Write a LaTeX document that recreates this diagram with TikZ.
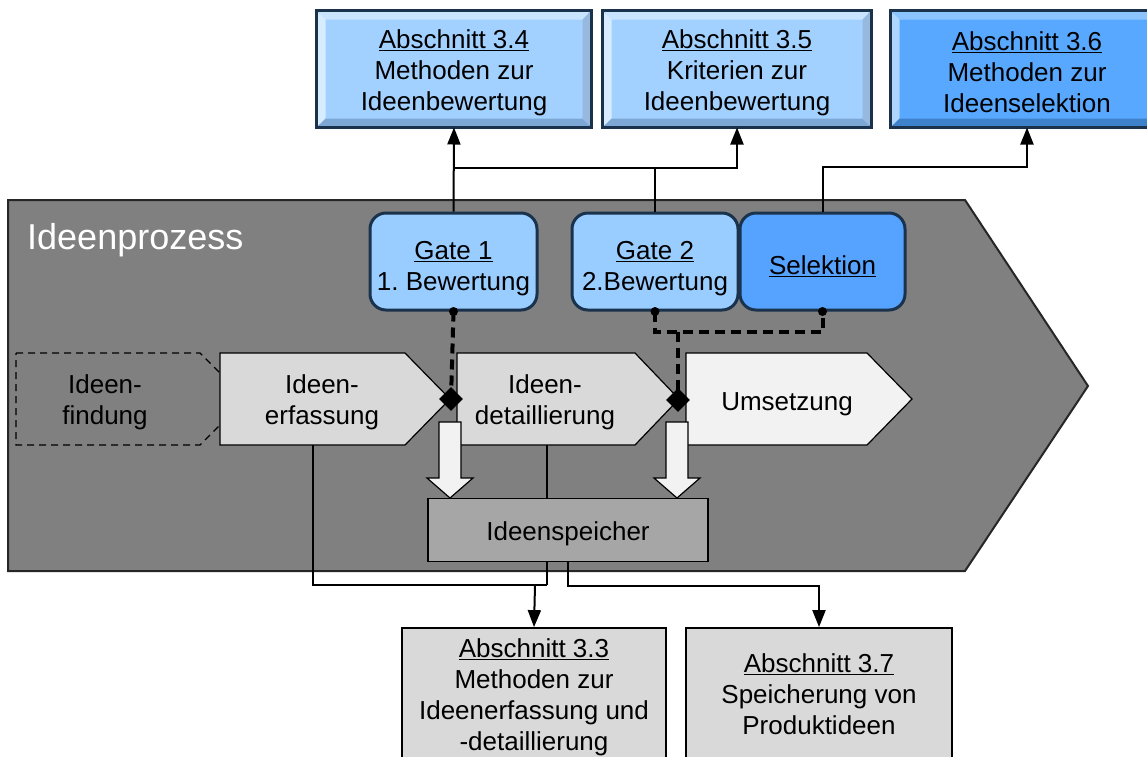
\documentclass[tikz,border=0pt]{standalone}
\usepackage{fontspec}
\setmainfont{Liberation Sans}
\frenchspacing
\usetikzlibrary{arrows.meta,shapes.geometric,calc}
\definecolor{navy}{HTML}{1A324C}
\definecolor{bigfill}{HTML}{808080}
\definecolor{lblue}{HTML}{A3D1FF}
\definecolor{lbluehi}{HTML}{C8E4FF}
\definecolor{lbluelo}{HTML}{7DA8D6}
\definecolor{mblue}{HTML}{58A8FF}
\definecolor{mbluehi}{HTML}{8CC4FF}
\definecolor{mbluelo}{HTML}{3F82CC}
\definecolor{gatefill}{HTML}{99CCFF}
\definecolor{selfill}{HTML}{55A3FF}
\definecolor{chevfill}{HTML}{D9D9D9}
\definecolor{umsfill}{HTML}{F2F2F2}
\definecolor{spfill}{HTML}{A6A6A6}
\newcommand{\bevelbox}[3]{%
  \fill[#2] ($(#1.north west)+(1.5,1.5)$) -- ($(#1.north east)+(-1.5,1.5)$) -- ($(#1.north east)+(-9,9)$) -- ($(#1.north west)+(9,9)$) -- cycle;
  \fill[#2!70!white] ($(#1.north west)+(1.5,1.5)$) -- ($(#1.north west)+(9,9)$) -- ($(#1.south west)+(9,-9)$) -- ($(#1.south west)+(1.5,-1.5)$) -- cycle;
  \fill[#3] ($(#1.south west)+(1.5,-1.5)$) -- ($(#1.south west)+(9,-9)$) -- ($(#1.south east)+(-9,-9)$) -- ($(#1.south east)+(-1.5,-1.5)$) -- cycle;
  \fill[#3!80!white] ($(#1.north east)+(-1.5,1.5)$) -- ($(#1.south east)+(-1.5,-1.5)$) -- ($(#1.south east)+(-9,-9)$) -- ($(#1.north east)+(-9,9)$) -- cycle;
  \draw[navy, line width=3pt] (#1.north west) rectangle (#1.south east);
}
\begin{document}
\begin{tikzpicture}[x=1pt,y=-1pt,
  txt/.style={font=\fontsize{26}{31}\selectfont, align=center, text=black},
  ltxt/.style={txt, yshift=-3.5pt},
  topbox/.style={draw=navy, line width=3pt, minimum height=114pt, inner sep=0pt},
  gatebox/.style={draw=navy, line width=3pt, rounded corners=16pt, minimum height=97pt, inner sep=0pt},
  chev/.style={draw=black, line width=1.2pt},
  graybox/.style={draw=black, line width=1.8pt, fill=chevfill, inner sep=0pt},
  arr/.style={-{Triangle[length=17pt,width=13pt]}, line width=2pt},
  conn/.style={line width=1.6pt},
  dashconn/.style={line width=4pt, dash pattern=on 10pt off 6pt},
  dot/.style={circle, fill=black, inner sep=0pt, minimum size=9pt},
  gem/.style={diamond, fill=black, inner sep=0pt, minimum size=24pt},
  blockarrow/.style={draw=black, line width=1.2pt, fill=umsfill},
]
\useasboundingbox (0,0) rectangle (1147,756);
\clip (0,0) rectangle (1147,756);
\fill[white] (0,0) rectangle (1147,756);

% big process arrow
\draw[fill=bigfill, draw=black!85, line width=2pt] (8,200) -- (965,200) -- (1088,386) -- (965,571) -- (8,571) -- cycle;
\node[font=\fontsize{36}{40}\selectfont, text=white, anchor=west, inner sep=0pt] (title) at (27,240) {Ideenprozess};

% top boxes
\node[topbox, fill=lblue, minimum width=272pt] (b34) at (454,69) {};
\bevelbox{b34}{lbluehi}{lbluelo}
\node[ltxt] (t34) at (454,69) {\underline{Abschnitt 3.4}\\Methoden zur\\Ideenbewertung};
\node[topbox, fill=lblue, minimum width=266pt] (b35) at (737,69) {};
\bevelbox{b35}{lbluehi}{lbluelo}
\node[ltxt] (t35) at (737,69) {\underline{Abschnitt 3.5}\\Kriterien zur\\Ideenbewertung};
\node[topbox, fill=mblue, minimum width=270pt] (b36) at (1027,69) {};
\bevelbox{b36}{mbluehi}{mbluelo}
\node[ltxt] (t36) at (1027,69) {\underline{Abschnitt 3.6}\\Methoden zur\\Ideenselektion};

% gates
\node[gatebox, fill=gatefill, minimum width=167pt] (g1) at (453.5,261.5) {};
\node[ltxt] (tg1) at (453.5,265) {\underline{Gate 1}\\1. Bewertung};
\node[gatebox, fill=gatefill, minimum width=166pt] (g2) at (655,261.5) {};
\node[ltxt] (tg2) at (655,265) {\underline{Gate 2}\\2.Bewertung};
\node[gatebox, fill=selfill, minimum width=165pt] (sel) at (822.5,261.5) {};
\node[ltxt] (tsel) at (822.5,263) {\underline{Selektion}};

% connectors to top boxes
\coordinate (j1) at (453.5,168);
\draw[arr] (g1.north) -- (b34.south);
\draw[arr] (j1) -| (b35.south);
\draw[conn] (g2.north) -- (g2.north |- j1);
\draw[arr] (sel.north) -- ++(0,-45) -| (b36.south);

% chevrons
\draw[chev, dashed, dash pattern=on 7pt off 5pt] (16,353) -- (200,353) -- (246,399) -- (200,445) -- (16,445) -- cycle;
\draw[chev, fill=chevfill] (220,353) -- (405,353) -- (450,399) -- (405,445) -- (220,445) -- cycle;
\draw[chev, fill=chevfill] (457,353) -- (635,353) -- (679,399) -- (635,445) -- (457,445) -- cycle;
\draw[chev, fill=umsfill] (686,353) -- (867,353) -- (912,399) -- (867,445) -- (686,445) -- cycle;
\node[ltxt] (findung) at (105,399) {Ideen-\\findung};
\node[ltxt] (erf) at (322,399) {Ideen-\\erfassung};
\node[ltxt] (det) at (545,399) {Ideen-\\detaillierung};
\node[ltxt] (ums) at (787,401) {Umsetzung};

% lines to bottom
\coordinate (erfB) at (313,445);
\coordinate (detB) at (547,445);
\coordinate (j3) at (547,585);
\draw[conn] (erfB) |- (j3);
\draw[conn] (detB) -- (j3);

% block arrows
\draw[blockarrow] (439,422) -- (461,422) -- (461,478) -- (473,478) -- (450,498) -- (427,478) -- (439,478) -- cycle;
\draw[blockarrow] (666,422) -- (688,422) -- (688,478) -- (700,478) -- (677,498) -- (654,478) -- (666,478) -- cycle;

% Ideenspeicher
\node[draw=black, line width=1.5pt, fill=spfill, minimum width=280pt, minimum height=63pt, inner sep=0pt] (sp) at (568,530) {};
\node[ltxt] (tsp) at (568,530) {Ideenspeicher};

% bottom boxes
\node[graybox, minimum width=264pt, minimum height=138pt] (b33) at (534,697) {};
\node[ltxt] (t33) at (534,693.5) {\underline{Abschnitt 3.3}\\Methoden zur\\Ideenerfassung und\\-detaillierung};
\node[graybox, minimum width=266pt, minimum height=138pt] (b37) at (819,697) {};
\node[ltxt] (t37) at (819,691) {\underline{Abschnitt 3.7}\\Speicherung von\\Produktideen};
\coordinate (j4) at (535,585);
\draw[arr] (j4) -- (b33.north);
\draw[arr] (sp.south) -- ++(0,24) -| (b37.north);

% gate decision markers
\node[gem] (d1) at (451,399) {};
\node[gem] (d2) at (678,400) {};
\node[dot] (p1) at (g1.south) {};
\node[dot] (p2) at (g2.south) {};
\node[dot] (p3) at (sel.south) {};
\coordinate (j2) at (678,332);
\draw[dashconn] (p1.center) -- (d1.center);
\draw[dashconn] (p2.center) -- (p2.center |- j2) -| (p3.center);
\draw[dashconn] (j2) -- (d2.center);
\end{tikzpicture}
\end{document}
